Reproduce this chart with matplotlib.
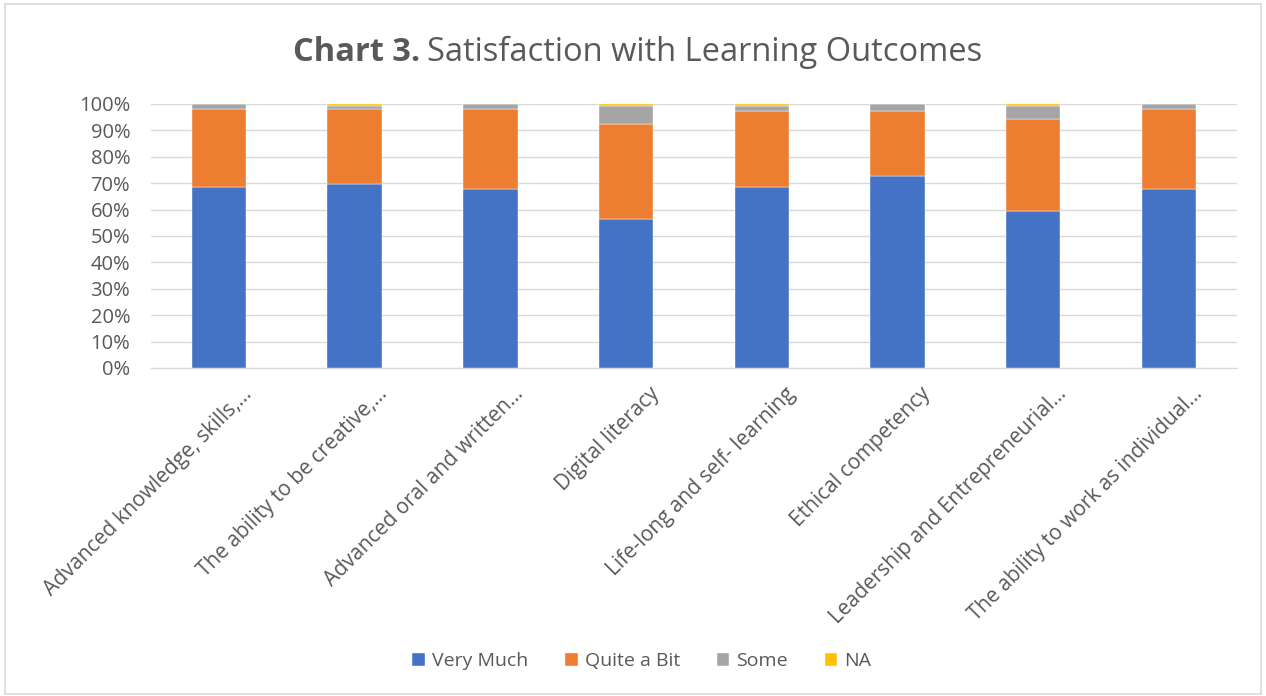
import matplotlib
matplotlib.use("Agg")
import matplotlib.pyplot as plt
import matplotlib.transforms as mtransforms
from matplotlib.patches import Rectangle
from matplotlib.ticker import PercentFormatter
import numpy as np

categories = [
    "Advanced knowledge, skills,...",
    "The ability to be creative,...",
    "Advanced oral and written...",
    "Digital literacy",
    "Life-long and self- learning",
    "Ethical competency",
    "Leadership and Entrepreneurial...",
    "The ability to work as individual...",
]
very_much = [68.7, 69.8, 67.9, 56.6, 68.7, 72.7, 59.5, 67.9]
quite_a_bit = [29.4, 28.3, 30.2, 35.9, 28.5, 24.5, 34.8, 30.2]
some = [1.9, 1.0, 1.9, 6.6, 1.9, 2.8, 4.8, 1.9]
na = [0.0, 0.9, 0.0, 0.9, 0.9, 0.0, 0.9, 0.0]

series = [("Very Much", very_much, "#4472C4"),
          ("Quite a Bit", quite_a_bit, "#ED7D31"),
          ("Some", some, "#A5A5A5"),
          ("NA", na, "#FFC000")]

plt.rcParams['font.family'] = ['Open Sans', 'DejaVu Sans']
txt = "#595959"

fig = plt.figure(figsize=(12.66, 6.96), dpi=100)
fig.patches.append(Rectangle((0.004, 0.003), 0.992, 0.991, transform=fig.transFigure,
                             fill=False, edgecolor="#D9D9D9", linewidth=1.2))
ax = fig.add_axes([0.1193, 0.4713, 0.8577, 0.3793])

x = np.arange(len(categories))
bottom = np.zeros(len(categories))
for name, vals, col in series:
    v = np.array(vals)
    ax.bar(x, v, 0.4, bottom=bottom, color=col, label=name, zorder=3,
           edgecolor="white", linewidth=0.3)
    bottom += v

ax.set_xlim(-0.5, len(categories) - 0.5)
ax.set_ylim(0, 100)
ax.set_yticks(np.arange(0, 101, 10))
ax.yaxis.set_major_formatter(PercentFormatter(decimals=0))
ax.grid(axis='y', color="#D9D9D9", linewidth=1, zorder=0)
for s in ["top", "right", "left"]:
    ax.spines[s].set_visible(False)
ax.spines["bottom"].set_color("#D9D9D9")
ax.tick_params(axis='both', length=0, colors=txt)
ax.tick_params(axis='y', pad=15, labelsize=14.5)
ax.tick_params(axis='x', labelsize=15)
ax.set_xticks(x)
ax.set_xticklabels(categories, rotation=45, ha='right', rotation_mode='anchor', va='center')
offset = mtransforms.ScaledTranslation(0.3, -0.18, fig.dpi_scale_trans)
for lab in ax.get_xticklabels():
    lab.set_transform(lab.get_transform() + offset)

title_y = 0.925
t1 = fig.text(0.2, title_y, "Chart 3.", fontsize=23.5, fontweight='bold', color=txt,
              ha='left', va='center')
fig.canvas.draw()
bb = t1.get_window_extent()
t2 = fig.text(bb.x1 / fig.bbox.width + 0.005, title_y, "Satisfaction with Learning Outcomes",
              fontsize=23.5, color=txt, ha='left', va='center')
fig.canvas.draw()
bb2 = t2.get_window_extent()
total = bb2.x1 - bb.x0
shift = (fig.bbox.width * 0.5035 - (bb.x0 + total / 2)) / fig.bbox.width
t1.set_x(t1.get_position()[0] + shift)
t2.set_x(t2.get_position()[0] + shift)

leg = fig.legend(loc='center', bbox_to_anchor=(0.507, 0.05), ncol=4, frameon=False,
                 fontsize=14, handlelength=0.65, handleheight=0.65, handletextpad=0.35,
                 columnspacing=1.9)
for t in leg.get_texts():
    t.set_color(txt)

fig.savefig("out.png", dpi=100)
